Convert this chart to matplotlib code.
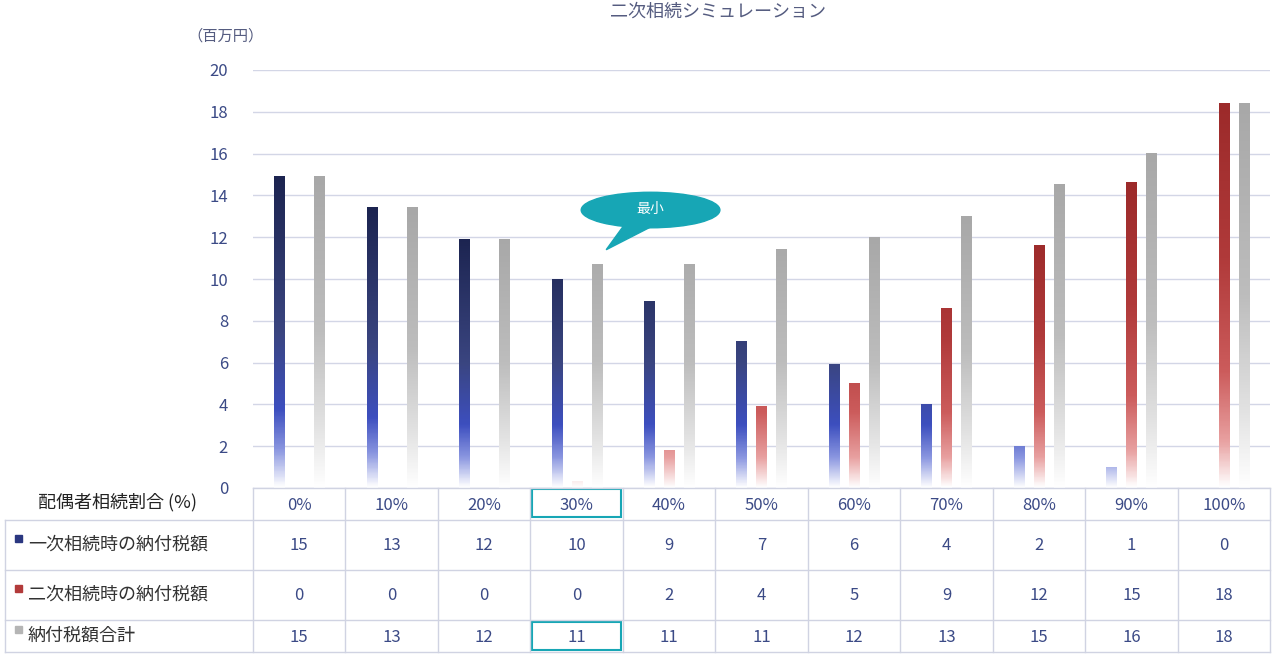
import numpy as np
import matplotlib
matplotlib.use("Agg")
import matplotlib.pyplot as plt
from matplotlib.colors import LinearSegmentedColormap
from matplotlib.patches import Rectangle, Ellipse, Polygon

plt.rcParams["font.family"] = ["Noto Sans CJK JP", "DejaVu Sans"]

categories = ["0%", "10%", "20%", "30%", "40%", "50%", "60%", "70%", "80%", "90%", "100%"]
first_tax = [14.9, 13.4, 11.9, 10.0, 8.9, 7.0, 5.9, 4.0, 2.0, 1.0, 0.0]
second_tax = [0.0, 0.0, 0.0, 0.3, 1.8, 3.9, 5.0, 8.6, 11.6, 14.6, 18.4]
total_tax = [14.9, 13.4, 11.9, 10.7, 10.7, 11.4, 12.0, 13.0, 14.5, 16.0, 18.4]
first_lbl = [15, 13, 12, 10, 9, 7, 6, 4, 2, 1, 0]
second_lbl = [0, 0, 0, 0, 2, 4, 5, 9, 12, 15, 18]
total_lbl = [15, 13, 12, 11, 11, 11, 12, 13, 15, 16, 18]
row_names = ["一次相続時の納付税額", "二次相続時の納付税額", "納付税額合計"]
min_idx = 3

W, H = 1280, 658
fig = plt.figure(figsize=(12.8, 6.58), dpi=100)
ax = fig.add_axes([253 / W, (H - 488) / H, 1017 / W, 418 / H])
ax.set_xlim(-0.5, len(categories) - 0.5)
ax.set_ylim(0, 20)
txtc = "#3b4a86"
ax.set_yticks(range(0, 21, 2))
ax.tick_params(axis="y", length=0, labelsize=12, labelcolor=txtc, pad=18)
ax.set_xticks([])
for s in ax.spines.values():
    s.set_visible(False)
ax.grid(axis="y", color="#d3d6e6", lw=1)
ax.set_axisbelow(True)

cm_blue = LinearSegmentedColormap.from_list("b", [(0, "#ffffff"), (0.12, "#8a96e0"), (0.25, "#3d4fbf"), (0.5, "#3a4580"), (1, "#1c2450")])
cm_red = LinearSegmentedColormap.from_list("r", [(0, "#ffffff"), (0.12, "#e8a0a0"), (0.3, "#cc5c5c"), (0.6, "#b03a3a"), (1, "#9c2a2a")])
cm_gray = LinearSegmentedColormap.from_list("g", [(0, "#ffffff"), (0.2, "#e2e2e2"), (0.5, "#bdbdbd"), (1, "#a8a8a8")])

bw = 0.11
def gbar(x, h, cmap):
    if h <= 0:
        return
    v = np.linspace(0, min(h / 12, 1), 200).reshape(-1, 1)
    ax.imshow(v, cmap=cmap, vmin=0, vmax=1, origin="lower", aspect="auto",
              extent=(x - bw / 2, x + bw / 2, 0, h), zorder=3, interpolation="bilinear")

off = 20 / 92.45
for i in range(len(categories)):
    gbar(i - off, first_tax[i], cm_blue)
    gbar(i, second_tax[i], cm_red)
    gbar(i + off, total_tax[i], cm_gray)
ax.set_xlim(-0.5, len(categories) - 0.5)
ax.set_ylim(0, 20)

# callout
teal = "#17a6b5"
ax.add_patch(Ellipse((min_idx + 0.8, 13.3), 1.5, 1.7, color=teal, zorder=5))
ax.add_patch(Polygon([(min_idx + 0.55, 12.8), (min_idx + 0.85, 12.6), (min_idx + 0.32, 11.4)], color=teal, zorder=5))
ax.text(min_idx + 0.8, 13.35, "最小", color="white", ha="center", va="center", fontsize=10, zorder=6)

fig.text(718 / W, 1 - 12 / H, "二次相続シミュレーション", ha="center", va="center", fontsize=13, color="#555c80")
fig.text(225 / W, 1 - 36 / H, "（百万円）", ha="center", va="center", fontsize=11, color="#555c80")

# table
tx = fig.add_axes([0, 0, 1, 1])
tx.set_xlim(0, W); tx.set_ylim(H, 0); tx.axis("off")
lc = "#d0d3e2"
rows_y = [488, 520, 570, 620, 652]
colw = 1017 / len(categories)
x0 = 253
for y in rows_y[1:]:
    tx.plot([5, 1270], [y, y], color=lc, lw=1)
tx.plot([253, 1270], [488, 488], color=lc, lw=1)
tx.plot([5, 5], [520, 652], color=lc, lw=1)
for j in range(len(categories) + 1):
    tx.plot([x0 + j * colw] * 2, [488, 652], color=lc, lw=1)
tx.text(118, 502, "配偶者相続割合 (%)", ha="center", va="center", fontsize=13, color="#222222")
for j, c in enumerate(categories):
    tx.text(x0 + (j + 0.5) * colw, 505, c, ha="center", va="center", fontsize=12, color=txtc)
vals = [first_lbl, second_lbl, total_lbl]
sw = ["#2a3780", "#b23a3a", "#b5b5b5"]
for r in range(3):
    yc = (rows_y[r + 1] + rows_y[r + 2]) / 2
    tx.add_patch(Rectangle((15, yc - 10), 7, 7, color=sw[r]))
    tx.text(28, yc, row_names[r], ha="left", va="center", fontsize=13, color="#333333")
    for j, v in enumerate(vals[r]):
        tx.text(x0 + (j + 0.5) * colw, yc + 1, str(v), ha="center", va="center", fontsize=12, color=txtc)
for (ya, yb) in [(489, 517), (622, 650)]:
    tx.add_patch(Rectangle((x0 + min_idx * colw + 2, ya), colw - 4, yb - ya, fill=False, ec=teal, lw=1.5))

fig.savefig("out.png", dpi=100)
